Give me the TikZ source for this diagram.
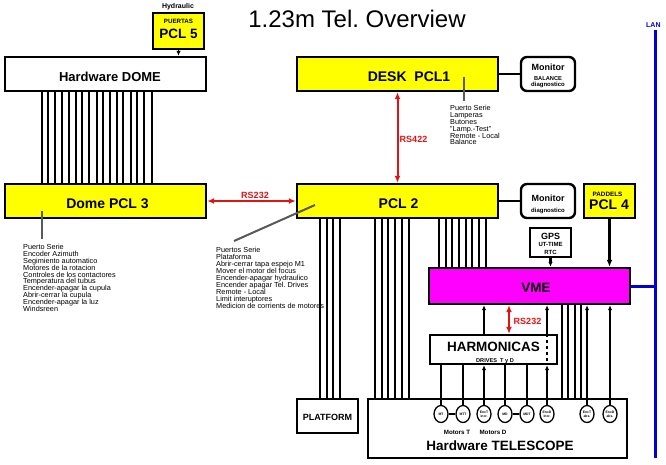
\documentclass[tikz,border=0pt]{standalone}
\usepackage{fontspec}
\setmainfont{Liberation Sans}
\usetikzlibrary{arrows.meta,shapes.geometric}
\definecolor{rsred}{RGB}{225,20,20}
\definecolor{leadgray}{RGB}{90,90,90}
\definecolor{lanblue}{RGB}{0,0,215}
\definecolor{boxyellow}{RGB}{255,255,0}
\definecolor{vmemag}{RGB}{255,0,255}
\frenchspacing
\begin{document}
\frenchspacing
\begin{tikzpicture}[x=1pt,y=-1pt,
 bx/.style 2 args={draw,line width=2.4pt,inner sep=0pt,minimum width=#1,minimum height=#2},
 tx/.style={anchor=base,inner sep=0pt},
 big/.style={tx,font=\bfseries\fontsize{13.5}{14}\selectfont},
 mid/.style={tx,font=\bfseries\fontsize{9}{9}\selectfont},
 sml/.style={tx,font=\bfseries\fontsize{6}{6}\selectfont},
 lst/.style={anchor=north west,align=left,inner sep=0pt,font=\fontsize{7.3}{6.9}\selectfont},
 wire/.style={line width=1.1pt},
 wthick/.style={line width=2.2pt},
 tip/.style={arrows={-Latex[length=5pt,width=4.5pt]}},
 bigtip/.style={arrows={-Latex[length=7pt,width=6pt]}},
 rs/.style={draw=rsred,line width=2pt,arrows={Latex[length=7pt,width=6pt]-Latex[length=7pt,width=6pt]}},
 lead/.style={draw=leadgray,line width=2pt},
 enc/.style={draw,ellipse,line width=1.3pt,minimum width=14pt,minimum height=17pt,inner sep=0pt,fill=white,align=center,font=\bfseries\fontsize{3.4}{3.8}\selectfont},
]
\useasboundingbox (0,0) rectangle (666,464);

% ---------- boxes ----------
\node[bx={51pt}{36pt},fill=boxyellow] (pcl5) at (178.5,31) {};
\node[bx={201pt}{34pt},fill=white] (dome) at (105.5,74) {};
\node[bx={201pt}{34pt},fill=boxyellow] (desk) at (397.5,74) {};
\node[bx={54pt}{34pt},rounded corners=6pt,fill=white] (mon1) at (548,74) {};
\node[bx={201pt}{34pt},fill=boxyellow] (domepcl) at (105.5,201) {};
\node[bx={201pt}{34pt},fill=boxyellow] (pcl2) at (397.5,201) {};
\node[bx={54pt}{34pt},rounded corners=6pt,fill=white] (mon2) at (548,201) {};
\node[bx={51pt}{34pt},fill=boxyellow] (pcl4) at (609.5,201) {};
\node[bx={41pt}{29pt},fill=white,line width=2pt] (gps) at (550.5,242.5) {};
\node[bx={201pt}{36pt},fill=vmemag] (vme) at (529.5,286) {};
\node[bx={127pt}{29pt},fill=white] (harm) at (493.5,349.5) {};
\node[bx={61pt}{34pt},fill=white] (platform) at (327.5,416) {};
\node[bx={259pt}{59pt},fill=white] (tel) at (497.5,428.5) {};

% ---------- encoders / motors ----------
\node[enc] (mt) at (441,414) {MT};
\node[enc] (mtt) at (463,414) {MTT};
\node[enc] (enctI) at (484,414) {EncT\\incr.};
\node[enc] (md) at (505,414) {MD};
\node[enc] (mdt) at (527,414) {MDT};
\node[enc] (encdI) at (547,414) {EncD\\incr.};
\node[enc] (encta) at (587,414) {EncT\\abs.};
\node[enc] (encda) at (610,414) {EncD\\abs.};

% ---------- LAN ----------
\coordinate (lantop) at (655,30);
\coordinate (lanbot) at (655,458);
\draw[lanblue,line width=3pt] (lantop) -- (lanbot);
\draw[lanblue,line width=3pt] (vme.east) -- (vme.east -| lantop);

% ---------- buses ----------
\foreach \x in {42,48,55,62,82,89,97,103,110,131,137,144,152}
  \draw[wire] (\x,0 |- dome.south) -- (\x,0 |- domepcl.north);
\foreach \x in {69,76,117,123}
  \draw[wthick] (\x,0 |- dome.south) -- (\x,0 |- domepcl.north);
\foreach \x in {327,333,340}
  \draw[wire] (\x,0 |- pcl2.south) -- (\x,0 |- platform.north);
\draw[wthick] (320,0 |- pcl2.south) -- (320,0 |- platform.north);
\foreach \x in {375,382,388,402}
  \draw[wire] (\x,0 |- pcl2.south) -- (\x,0 |- tel.north);
\foreach \x in {395,409}
  \draw[wthick] (\x,0 |- pcl2.south) -- (\x,0 |- tel.north);
\foreach \x in {439,446,459,472,479,486}
  \draw[wire] (\x,0 |- pcl2.south) -- (\x,0 |- vme.north);
\foreach \x in {452,466}
  \draw[wthick] (\x,0 |- pcl2.south) -- (\x,0 |- vme.north);
\foreach \x in {562,568,575,581}
  \draw[wire] (\x,0 |- vme.south) -- (\x,0 |- tel.north);

% ---------- connectors ----------
\draw[wire,line width=1.5pt,tip] (pcl5.south) -- (pcl5.south |- dome.north);
\draw[rs] (domepcl.east) -- (pcl2.west);
\draw[rs] (desk.south) -- (pcl2.north);
\draw[line width=2.5pt] (desk.east) -- (mon1.west);
\draw[line width=2.5pt] (pcl2.east) -- (mon2.west);
\draw[line width=2.8pt,bigtip] (pcl4.south) -- (pcl4.south |- vme.north);
\draw[wthick,tip] (gps.south) -- (gps.south |- vme.north);
\draw[rs] (509,0 |- harm.north) -- (509,0 |- vme.south);
\draw[wthick,tip] (484,0 |- harm.north) -- (484,0 |- vme.south);
\draw[wthick,tip] (547,0 |- harm.north) -- (547,0 |- vme.south);
\draw[wthick,dash pattern=on 3pt off 3pt] (547,0 |- harm.north) -- (547,0 |- harm.south);
\draw[wthick] (mt.north) -- (mt.north |- harm.south);
\draw[wire] (mtt.north) -- (mtt.north |- harm.south);
\draw[wthick,tip] (enctI.north) -- (enctI.north |- harm.south);
\draw[wire] (md.north) -- (md.north |- harm.south);
\draw[wire] (mdt.north) -- (mdt.north |- harm.south);
\draw[wthick,tip] (encdI.north) -- (encdI.north |- harm.south);
\draw[wthick,tip] (encta.north) -- (encta.north |- vme.south);
\draw[wire,tip] (encda.north) -- (encda.north |- vme.south);
\draw[line width=2pt] (mt) -- (mtt);
\draw[line width=2pt] (md) -- (mdt);

% ---------- lead lines to notes ----------
\coordinate (l1a) at (42,211); \coordinate (l1b) at (42,239);
\coordinate (l2a) at (315,205); \coordinate (l2b) at (234,241);
\coordinate (l3a) at (464,77); \coordinate (l3b) at (464,101);
\draw[lead] (l1a) -- (l1b);
\draw[lead] (l2a) -- (l2b);
\draw[lead] (l3a) -- (l3b);

% ---------- texts ----------
\node[tx,font=\fontsize{24}{24}\selectfont] (title) at (357,27) {1.23m Tel.\ Overview};
\node[tx,font=\bfseries\fontsize{7}{7}\selectfont] (hyd) at (178,8) {Hydraulic};
\node[sml,font=\bfseries\fontsize{6.2}{6.2}\selectfont] (pcl5a) at (178.5,23) {PUERTAS};
\node[big] (pcl5b) at (178.5,38.5) {PCL 5};
\node[big,font=\bfseries\fontsize{13}{13}\selectfont] (dometx) at (110,81) {Hardware DOME};
\node[big,font=\bfseries\fontsize{14}{14}\selectfont] (desktx) at (409,81) {DESK\ \ PCL1};
\node[mid] (mon1a) at (548,70) {Monitor};
\node[sml,font=\bfseries\fontsize{5.7}{5.7}\selectfont] (mon1b) at (548,80) {BALANCE};
\node[sml,font=\bfseries\fontsize{6}{6}\selectfont] (mon1c) at (548,86.5) {diagnostico};
\node[big,font=\bfseries\fontsize{14}{14}\selectfont] (domepcltx) at (107.5,208) {Dome PCL 3};
\node[big,font=\bfseries\fontsize{14}{14}\selectfont] (pcl2tx) at (398.5,208) {PCL 2};
\node[mid] (mon2a) at (548,201.5) {Monitor};
\node[sml] (mon2b) at (548,212) {diagnostico};
\node[sml,font=\bfseries\fontsize{6.3}{6.3}\selectfont] (pcl4a) at (607.5,196) {PADDELS};
\node[big,font=\bfseries\fontsize{14}{14}\selectfont] (pcl4b) at (609,209) {PCL 4};
\node[mid] (gpsa) at (550.5,239) {GPS};
\node[sml] (gpsb) at (550.5,246) {UT-TIME};
\node[sml] (gpsc) at (550.5,254) {RTC};
\node[mid,text=rsred] (rs1) at (255,198) {RS232};
\node[mid,text=rsred] (rs2) at (413.5,142) {RS422};
\node[mid,text=rsred] (rs3) at (527.5,324) {RS232};
\node[big,font=\bfseries\fontsize{13.5}{13.5}\selectfont] (vmetx) at (536,292) {VME};
\node[big,font=\bfseries\fontsize{13.5}{13.5}\selectfont] (harmtx) at (493.5,351) {HARMONICAS};
\node[sml,font=\bfseries\fontsize{5.6}{5.6}\selectfont] (harmsub) at (495,362) {DRIVES\ \ T y D};
\node[mid] (platformtx) at (327.5,420) {PLATFORM};
\node[sml,font=\bfseries\fontsize{6.2}{6.2}\selectfont] (motT) at (457,434) {Motors T};
\node[sml,font=\bfseries\fontsize{6.2}{6.2}\selectfont] (motD) at (493,434) {Motors D};
\node[big,font=\bfseries\fontsize{13.5}{13.5}\selectfont] (teltx) at (500,450) {Hardware TELESCOPE};
\node[tx,anchor=base west,text=lanblue,font=\bfseries\fontsize{7}{7}\selectfont] (lantx) at (646,27) {LAN};

\node[lst] (domelist) at (23,244) {Puerto Serie\\Encoder Azimuth\\Segimiento automatico\\Motores de la rotacion\\Controles de los contactores\\Temperatura del tubus\\Encender-apagar la cupula\\Abrir-cerrar la cupula\\Encender-apagar la luz\\Windsreen};
\node[lst] (pcl2list) at (216,247.5) {Puertos Serie\\Plataforma\\Abrir-cerrar tapa espejo M1\\Mover el motor del focus\\Encender-apagar hydraulico\\Encender apagar Tel.\ Drives\\Remote - Local\\Limit interuptores\\Medicion de corrients de motores};
\node[lst] (desklist) at (450,105) {Puerto Serie\\Lamperas\\Butones\\"Lamp.-Test"\\Remote - Local\\Balance};
\end{tikzpicture}
\end{document}
